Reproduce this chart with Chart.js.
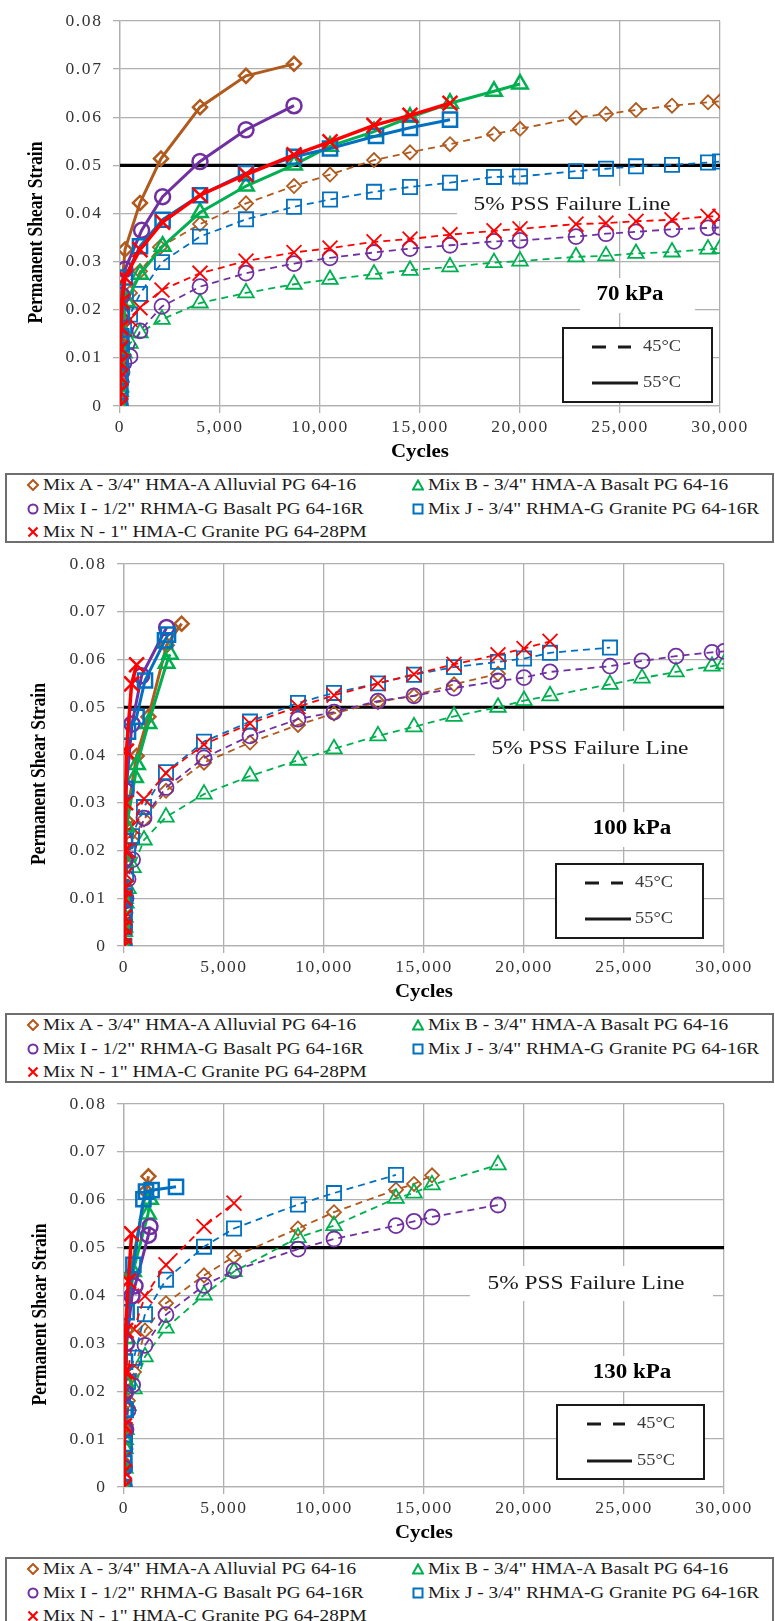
<!DOCTYPE html>
<html>
<head>
<meta charset="utf-8">
<script src="https://cdn.jsdelivr.net/npm/chart.js@4.4.1/dist/chart.umd.min.js"></script>
<style>
  html, body { margin: 0; padding: 0; background: #fff; }
  body { width: 775px; height: 1621px; position: relative; overflow: hidden; }
  canvas { position: absolute; left: 0; }
  .legend { position: absolute; left: 5px; width: 769px; height: 70px; box-sizing: border-box;
            border: 2px solid #6e6e6e; font-family: "Liberation Serif", "Times New Roman", serif;
            font-size: 16.5px; color: #1a1a1a; background: #fff; }
  .item { position: absolute; height: 20px; line-height: 20px; white-space: nowrap; }
  .item svg { position: absolute; left: 0; top: 4px; }
  .item span { position: absolute; left: 16px; top: 0; transform: scaleX(1.17); transform-origin: left center; }
</style>
</head>
<body>
<canvas id="c70" width="775" height="473" style="top:0px"></canvas>
<canvas id="c100" width="775" height="470" style="top:543px"></canvas>
<canvas id="c130" width="775" height="474" style="top:1083px"></canvas>
<div id="legends"></div>
<script>
// axis ticks
const xTicks = [0, 5000, 10000, 15000, 20000, 25000, 30000];
const yTicks = [0, 0.01, 0.02, 0.03, 0.04, 0.05, 0.06, 0.07, 0.08];
const failureX = [0, 30000];
const failureStrain = 0.05;

// mixes
const mixKeys = ['A', 'B', 'I', 'J', 'N'];
const mixLabels = {
  A: 'Mix A - 3/4" HMA-A Alluvial PG 64-16',
  B: 'Mix B - 3/4" HMA-A Basalt PG 64-16',
  I: 'Mix I - 1/2" RHMA-G Basalt PG 64-16R',
  J: 'Mix J - 3/4" RHMA-G Granite PG 64-16R',
  N: 'Mix N - 1" HMA-C Granite PG 64-28PM'
};
const panelLabels = ['70 kPa', '100 kPa', '130 kPa'];

// 70 kPa  [cycles, permanent shear strain]
const kpa70_A45 = [[0,0],[20,0.005],[50,0.009],[100,0.013],[200,0.018],[500,0.0235],[1000,0.028],[2000,0.033],[4000,0.0378],[6300,0.0421],[8700,0.0457],[10500,0.0481],[12700,0.0511],[14500,0.0527],[16500,0.0544],[18700,0.0565],[20000,0.0576],[22800,0.0599],[24300,0.0607],[25800,0.0615],[27600,0.0624],[29400,0.0631],[30000,0.0633]];
const kpa70_B45 = [[0,0],[20,0.003],[50,0.006],[100,0.009],[200,0.011],[500,0.013],[1000,0.0152],[2100,0.0180],[4000,0.0214],[6300,0.0235],[8700,0.0253],[10500,0.0263],[12700,0.0274],[14500,0.0282],[16500,0.0289],[18700,0.0298],[20000,0.0301],[22800,0.0310],[24300,0.0312],[25800,0.0317],[27600,0.0320],[29400,0.0326],[30000,0.0327]];
const kpa70_I45 = [[0,0],[20,0.003],[50,0.005],[100,0.007],[200,0.009],[500,0.0103],[1000,0.0156],[2100,0.0207],[4000,0.0248],[6300,0.0276],[8700,0.0296],[10500,0.0308],[12700,0.0319],[14500,0.0327],[16500,0.0334],[18700,0.0342],[20000,0.0344],[22800,0.0352],[24300,0.0358],[25800,0.0362],[27600,0.0367],[29400,0.0370],[30000,0.0371]];
const kpa70_J45 = [[0,0],[20,0.004],[50,0.008],[100,0.012],[200,0.016],[500,0.019],[1000,0.0233],[2100,0.0299],[4000,0.0352],[6300,0.0388],[8700,0.0414],[10500,0.0429],[12700,0.0445],[14500,0.0455],[16500,0.0464],[18700,0.0476],[20000,0.0477],[22800,0.0488],[24300,0.0493],[25800,0.0498],[27600,0.0501],[29400,0.0506],[30000,0.0508]];
const kpa70_N45 = [[0,0],[20,0.004],[50,0.008],[100,0.012],[200,0.016],[500,0.018],[1000,0.0204],[2100,0.0241],[4000,0.0276],[6300,0.0301],[8700,0.0319],[10500,0.0328],[12700,0.0341],[14500,0.0347],[16500,0.0356],[18700,0.0364],[20000,0.0368],[22800,0.0378],[24300,0.0380],[25800,0.0384],[27600,0.0387],[29400,0.0394],[30000,0.0394]];
const kpa70_A55 = [[0,0],[5,0.006],[10,0.010],[20,0.014],[30,0.018],[50,0.0224],[250,0.0325],[1000,0.0422],[2050,0.0514],[4000,0.0621],[6300,0.0686],[8700,0.0711]];
const kpa70_B55 = [[0,0],[10,0.004],[20,0.008],[50,0.012],[100,0.016],[330,0.0217],[1000,0.0274],[2130,0.0332],[4000,0.0402],[6300,0.0457],[8700,0.0501],[10500,0.0540],[12700,0.0570],[14500,0.0600],[16500,0.0629],[18700,0.0654],[20000,0.0669]];
const kpa70_I55 = [[0,0],[10,0.005],[20,0.009],[40,0.014],[70,0.019],[100,0.023],[250,0.0284],[1080,0.0365],[2130,0.0435],[4000,0.0508],[6300,0.0574],[8700,0.0624]];
const kpa70_J55 = [[0,0],[5,0.003],[10,0.006],[20,0.009],[30,0.0129],[60,0.0145],[90,0.0190],[250,0.0267],[1000,0.0332],[2130,0.0387],[4000,0.0438],[6300,0.0484],[8700,0.0518],[10500,0.0535],[12800,0.0561],[14500,0.0578],[16500,0.0595]];
const kpa70_N55 = [[0,0],[5,0.003],[10,0.006],[20,0.009],[30,0.012],[50,0.0163],[100,0.0217],[250,0.0267],[1000,0.0325],[2130,0.0382],[4000,0.0438],[6300,0.0481],[8700,0.0522],[10500,0.0549],[12700,0.0583],[14500,0.0604],[16500,0.0629]];

// 100 kPa
const kpa100_A45 = [[0,0],[20,0.004],[50,0.008],[100,0.012],[200,0.018],[400,0.022],[1000,0.0265],[2100,0.0325],[4000,0.0384],[6300,0.0426],[8700,0.0463],[10500,0.0487],[12700,0.0511],[14500,0.0524],[16500,0.0548],[18700,0.0570]];
const kpa100_B45 = [[0,0],[20,0.003],[50,0.006],[100,0.009],[200,0.012],[450,0.0164],[1000,0.0222],[2100,0.0270],[4000,0.0318],[6300,0.0356],[8700,0.0389],[10500,0.0413],[12700,0.0440],[14500,0.0459],[16500,0.0481],[18700,0.0500],[20000,0.0514],[21300,0.0524],[24300,0.0548],[25900,0.0561],[27600,0.0574],[29400,0.0586],[30000,0.0591]];
const kpa100_I45 = [[0,0],[20,0.004],[50,0.007],[100,0.010],[200,0.014],[430,0.0181],[1000,0.0268],[2100,0.0332],[4000,0.0394],[6300,0.0440],[8700,0.0475],[10500,0.0490],[12700,0.0513],[14500,0.0524],[16500,0.0540],[18700,0.0555],[20000,0.0562],[21300,0.0574],[24300,0.0586],[25900,0.0597],[27600,0.0607],[29400,0.0615],[30000,0.0617]];
const kpa100_J45 = [[0,0],[20,0.005],[50,0.010],[100,0.015],[200,0.020],[400,0.023],[1000,0.0291],[2100,0.0364],[4000,0.0428],[6300,0.0470],[8700,0.0509],[10500,0.0530],[12700,0.0550],[14500,0.0568],[16500,0.0584],[18700,0.0595],[20000,0.0602],[21300,0.0614],[24300,0.0625]];
const kpa100_N45 = [[0,0],[20,0.005],[50,0.010],[100,0.015],[200,0.020],[380,0.025],[1000,0.0308],[2100,0.0362],[4000,0.0422],[6300,0.0466],[8700,0.0501],[10500,0.0525],[12700,0.0550],[14500,0.0569],[16500,0.0590],[18700,0.0610],[20000,0.0623],[21300,0.0638]];
const kpa100_A55 = [[0,0],[10,0.005],[20,0.011],[50,0.0188],[100,0.0263],[630,0.0398],[1220,0.0480],[2130,0.0630],[2880,0.0675]];
const kpa100_B55 = [[0,0],[10,0.004],[30,0.010],[60,0.0177],[120,0.025],[550,0.0353],[650,0.0380],[1220,0.0466],[2130,0.0592],[2300,0.0611]];
const kpa100_I55 = [[0,0],[10,0.004],[30,0.0095],[50,0.0181],[100,0.0325],[400,0.0465],[880,0.0566],[2130,0.0667]];
const kpa100_J55 = [[0,0],[10,0.004],[20,0.007],[30,0.0105],[50,0.022],[100,0.0329],[200,0.0449],[630,0.0480],[1050,0.0556],[2050,0.0640],[2200,0.0652]];
const kpa100_N55 = [[0,0],[5,0.002],[10,0.004],[15,0.006],[20,0.010],[30,0.012],[50,0.020],[80,0.030],[120,0.0408],[380,0.0549],[630,0.0589]];

// 130 kPa
const kpa130_A45 = [[0,0],[20,0.004],[50,0.008],[100,0.013],[200,0.018],[500,0.024],[1050,0.0327],[2100,0.0384],[4000,0.0442],[5500,0.0481],[8700,0.0540],[10500,0.0574],[13600,0.0621],[14500,0.0633],[15400,0.0651]];
const kpa130_B45 = [[0,0],[20,0.004],[50,0.008],[100,0.012],[200,0.017],[500,0.0205],[1050,0.0272],[2100,0.0332],[4000,0.0401],[5500,0.0450],[8700,0.0521],[10500,0.0546],[13600,0.0603],[14500,0.0614],[15400,0.0631],[18700,0.0673]];
const kpa130_I45 = [[0,0],[20,0.004],[50,0.008],[100,0.012],[200,0.016],[430,0.0213],[1050,0.0296],[2100,0.0360],[4000,0.0421],[5500,0.0452],[8700,0.0497],[10500,0.0518],[13600,0.0546],[14500,0.0555],[15400,0.0564],[18700,0.0589]];
const kpa130_J45 = [[0,0],[20,0.006],[50,0.011],[100,0.016],[200,0.022],[500,0.027],[1050,0.0361],[2100,0.0433],[4000,0.0502],[5500,0.0540],[8700,0.0590],[10500,0.0614],[13600,0.0652]];
const kpa130_N45 = [[0,0],[20,0.006],[50,0.012],[100,0.018],[200,0.024],[500,0.033],[1050,0.0399],[2100,0.0464],[4000,0.0544],[5500,0.0593]];
const kpa130_A55 = [[0,0],[10,0.005],[30,0.012],[60,0.022],[120,0.0327],[300,0.0443],[1100,0.0618],[1220,0.0649]];
const kpa130_B55 = [[0,0],[10,0.004],[30,0.010],[60,0.022],[150,0.031],[450,0.045],[1200,0.0570],[1300,0.0601]];
const kpa130_I55 = [[0,0],[10,0.004],[30,0.0121],[60,0.0197],[120,0.0300],[400,0.0399],[550,0.0420],[1220,0.0526],[1300,0.0544]];
const kpa130_J55 = [[0,0],[10,0.005],[20,0.009],[30,0.0162],[50,0.0262],[130,0.0365],[470,0.0464],[970,0.0601],[1100,0.0617],[1380,0.0620],[2600,0.0627]];
const kpa130_N55 = [[0,0],[10,0.0032],[20,0.0128],[50,0.0241],[80,0.0327],[220,0.0430],[380,0.0529]];

const panelSeries = [
  { A45: kpa70_A45, B45: kpa70_B45, I45: kpa70_I45, J45: kpa70_J45, N45: kpa70_N45,
    A55: kpa70_A55, B55: kpa70_B55, I55: kpa70_I55, J55: kpa70_J55, N55: kpa70_N55 },
  { A45: kpa100_A45, B45: kpa100_B45, I45: kpa100_I45, J45: kpa100_J45, N45: kpa100_N45,
    A55: kpa100_A55, B55: kpa100_B55, I55: kpa100_I55, J55: kpa100_J55, N55: kpa100_N55 },
  { A45: kpa130_A45, B45: kpa130_B45, I45: kpa130_I45, J45: kpa130_J45, N45: kpa130_N45,
    A55: kpa130_A55, B55: kpa130_B55, I55: kpa130_I55, J55: kpa130_J55, N55: kpa130_N55 }
];

// styles
const mixStyle = {
  A: { color: '#B05A1E', point: 'rectRot', r: 7 },
  B: { color: '#00B050', point: 'triangle', r: 9 },
  I: { color: '#7030A0', point: 'circle', r: 7.5 },
  J: { color: '#0070C0', point: 'rect', r: 10 },
  N: { color: '#FF0000', point: 'crossRot', r: 10.5 }
};
const drawOrder = ['N', 'J', 'I', 'B', 'A']; // first one ends up on top
const gridColor = '#b0b0b0';
const serif = '"Liberation Serif", "Times New Roman", serif';

// page geometry of each panel (pixels inside its canvas, boxes relative to plot area)
const panelLayout = [
  { id: 'c70', H: 473, L: 120, T: 16, B: 406, R: 720, yTitleX: 37,
    pssBox: [337, 165, 260, 35], pssText: [452, 184], kpaBox: [460, 257, 115, 35], kpaText: [510, 274],
    inset: [443, 307, 149, 74], dash: [472, 511, 326], solid: [472, 518, 362], tx: 523 },
  { id: 'c100', H: 470, L: 124, T: 15, B: 403, R: 724, yTitleX: 40,
    pssBox: [351, 167, 248, 33], pssText: [466, 185], kpaBox: [458, 248, 115, 35], kpaText: [508, 265],
    inset: [432, 300, 147, 74], dash: [461, 499, 319], solid: [461, 507, 355], tx: 511 },
  { id: 'c130', H: 474, L: 124, T: 15, B: 404, R: 724, yTitleX: 41,
    pssBox: [346, 162, 243, 35], pssText: [462, 180], kpaBox: [458, 252, 115, 35], kpaText: [508, 269],
    inset: [433, 301, 147, 74], dash: [463, 501, 320], solid: [463, 508, 357], tx: 513 }
];
const legendTops = [473, 1013, 1557];

function stretchedText(ctx, text, x, y, font, sx, align, color) {
  ctx.save();
  ctx.letterSpacing = '0px';
  ctx.font = font;
  ctx.fillStyle = color || '#000';
  ctx.textAlign = align || 'center';
  ctx.textBaseline = 'middle';
  ctx.translate(x, y);
  ctx.scale(sx, 1);
  ctx.fillText(text, 0, 0);
  ctx.restore();
}

const panelDecor = {
  id: 'panelDecor',
  beforeDraw(chart) {
    chart.ctx.letterSpacing = '1.6px'; // wide tick labels like the original
  },
  beforeDatasetsDraw(chart, args, o) {
    const ctx = chart.ctx, a = chart.chartArea;
    const lay = o.lay;
    ctx.save();
    ctx.fillStyle = '#fff';
    ctx.fillRect(a.left + lay.pssBox[0], a.top + lay.pssBox[1], lay.pssBox[2], lay.pssBox[3]);
    ctx.fillRect(a.left + lay.kpaBox[0], a.top + lay.kpaBox[1], lay.kpaBox[2], lay.kpaBox[3]);
    ctx.restore();
    stretchedText(ctx, '5% PSS Failure Line', a.left + lay.pssText[0], a.top + lay.pssText[1],
      '19.5px ' + serif, 1.2, 'center', '#1a1a1a');
    stretchedText(ctx, o.label, a.left + lay.kpaText[0], a.top + lay.kpaText[1],
      'bold 20px ' + serif, 1.15, 'center', '#000');

    // temperature key
    const b = lay.inset;
    ctx.save();
    ctx.letterSpacing = '0px';
    ctx.fillStyle = '#fff';
    ctx.fillRect(a.left + b[0], a.top + b[1], b[2], b[3]);
    ctx.strokeStyle = '#1a1a1a';
    ctx.lineWidth = 2;
    ctx.strokeRect(a.left + b[0], a.top + b[1], b[2], b[3]);
    ctx.lineWidth = 3;
    ctx.setLineDash([14, 12]);
    ctx.beginPath();
    ctx.moveTo(a.left + lay.dash[0], a.top + lay.dash[2]);
    ctx.lineTo(a.left + lay.dash[1], a.top + lay.dash[2]);
    ctx.stroke();
    ctx.setLineDash([]);
    ctx.beginPath();
    ctx.moveTo(a.left + lay.solid[0], a.top + lay.solid[2]);
    ctx.lineTo(a.left + lay.solid[1], a.top + lay.solid[2]);
    ctx.stroke();
    ctx.restore();
    stretchedText(ctx, '45°C', a.left + lay.tx, a.top + lay.dash[2], '16px ' + serif, 1.15, 'left', '#3a3a3a');
    stretchedText(ctx, '55°C', a.left + lay.tx, a.top + lay.solid[2], '16px ' + serif, 1.15, 'left', '#3a3a3a');
  },
  afterDraw(chart, args, o) {
    const ctx = chart.ctx, a = chart.chartArea;
    stretchedText(ctx, 'Cycles', (a.left + a.right) / 2, a.bottom + 46, 'bold 18px ' + serif, 1.16, 'center', '#000');
    ctx.save();
    ctx.letterSpacing = '0px';
    ctx.font = 'bold 17.5px ' + serif;
    ctx.fillStyle = '#000';
    ctx.textAlign = 'center';
    ctx.textBaseline = 'middle';
    ctx.translate(o.lay.yTitleX, (a.top + a.bottom) / 2 + 19);
    ctx.rotate(-Math.PI / 2);
    ctx.scale(1, 1.2);
    ctx.fillText('Permanent Shear Strain', 0, 0);
    ctx.restore();
  }
};

function buildDatasets(series) {
  const sets = [];
  ['55', '45'].forEach(temp => {
    drawOrder.forEach(k => {
      const st = mixStyle[k];
      const solid = temp === '55';
      sets.push({
        label: mixLabels[k] + ' ' + temp + '°C',
        data: series[k + temp].map(p => ({ x: p[0], y: p[1] })),
        showLine: true,
        borderColor: st.color,
        backgroundColor: 'rgba(0,0,0,0)',
        borderWidth: solid ? (k === 'N' ? 3.5 : 3) : 1.8,
        borderDash: solid ? [] : [7, 5],
        pointStyle: st.point,
        pointRadius: st.r,
        pointBorderWidth: solid ? 2.5 : 1.8,
        pointBorderColor: st.color,
        pointBackgroundColor: 'rgba(0,0,0,0)',
        tension: 0
      });
    });
  });
  sets.push({
    label: '5% PSS Failure Line',
    data: failureX.map(x => ({ x: x, y: failureStrain })),
    showLine: true,
    borderColor: '#000',
    borderWidth: 3.2,
    pointRadius: 0
  });
  return sets;
}

panelLayout.forEach((lay, i) => {
  const ctx = document.getElementById(lay.id).getContext('2d');
  new Chart(ctx, {
    type: 'scatter',
    data: { datasets: buildDatasets(panelSeries[i]) },
    options: {
      responsive: false,
      animation: false,
      devicePixelRatio: 1,
      events: [],
      layout: { padding: { left: 0, top: lay.T, right: 775 - lay.R, bottom: 0 } },
      plugins: {
        legend: { display: false },
        tooltip: { enabled: false },
        panelDecor: { lay: lay, label: panelLabels[i] }
      },
      scales: {
        x: {
          type: 'linear',
          min: xTicks[0],
          max: xTicks[xTicks.length - 1],
          afterBuildTicks: s => { s.ticks = xTicks.map(v => ({ value: v })); },
          afterFit: s => { s.height = lay.H - lay.B; },
          grid: { color: gridColor, lineWidth: 1.3, tickLength: 7 },
          border: { color: gridColor, width: 1.3 },
          ticks: {
            autoSkip: false,
            maxRotation: 0,
            padding: 3.5,
            color: '#333',
            font: { family: serif, size: 17.5 },
            callback: v => v.toLocaleString('en-US')
          }
        },
        y: {
          type: 'linear',
          min: yTicks[0],
          max: yTicks[yTicks.length - 1],
          afterBuildTicks: s => { s.ticks = yTicks.map(v => ({ value: v })); },
          afterFit: s => { s.width = lay.L; },
          grid: { color: gridColor, lineWidth: 1.3, tickLength: 7 },
          border: { color: gridColor, width: 1.3 },
          ticks: {
            padding: 10.5,
            color: '#333',
            font: { family: serif, size: 17.5 },
            callback: v => (v === 0 ? '0' : v.toFixed(2))
          }
        }
      }
    },
    plugins: [panelDecor]
  });
});

// mix legends under each panel
function markerSvg(k) {
  const c = mixStyle[k].color;
  let shape = '';
  if (k === 'A') shape = '<polygon points="6,1 11,6 6,11 1,6" fill="none" stroke="' + c + '" stroke-width="2"/>';
  if (k === 'B') shape = '<polygon points="6,1.5 11,10.5 1,10.5" fill="none" stroke="' + c + '" stroke-width="2"/>';
  if (k === 'I') shape = '<circle cx="6" cy="6" r="4.5" fill="none" stroke="' + c + '" stroke-width="2"/>';
  if (k === 'J') shape = '<rect x="1.5" y="1.5" width="9" height="9" fill="none" stroke="' + c + '" stroke-width="2"/>';
  if (k === 'N') shape = '<path d="M1.5 1.5 L10.5 10.5 M10.5 1.5 L1.5 10.5" stroke="' + c + '" stroke-width="2.2"/>';
  return '<svg width="12" height="12" viewBox="0 0 12 12">' + shape + '</svg>';
}
const legendRows = [['A', 'B'], ['I', 'J'], ['N']];
const rowTops = [0, 24, 47];
const colLefts = [20, 405];
let html = '';
legendTops.forEach(top => {
  html += '<div class="legend" style="top:' + top + 'px">';
  legendRows.forEach((row, r) => {
    row.forEach((k, c) => {
      html += '<div class="item" style="left:' + colLefts[c] + 'px;top:' + rowTops[r] + 'px">' +
        markerSvg(k) + '<span>' + mixLabels[k].replace(/"/g, '&quot;') + '</span></div>';
    });
  });
  html += '</div>';
});
document.getElementById('legends').innerHTML = html;
</script>
</body>
</html>
